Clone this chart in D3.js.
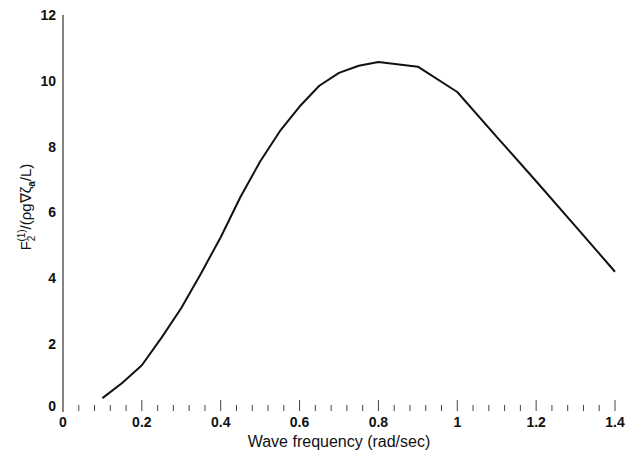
<!DOCTYPE html>
<html>
<head>
<meta charset="utf-8">
<script src="https://cdn.jsdelivr.net/npm/d3@7"></script>
<style>
  body { margin: 0; background: #fff; }
  text { font-family: "Liberation Sans", Arial, sans-serif; fill: #111; }
</style>
</head>
<body>
<svg id="chart" width="637" height="456"></svg>
<script>
const freq = [0.1, 0.15, 0.2, 0.25, 0.3, 0.35, 0.4, 0.45, 0.5, 0.55, 0.6, 0.65, 0.7, 0.75, 0.8, 0.9, 1.0, 1.1, 1.2, 1.3, 1.4];
const force = [0.36, 0.82, 1.36, 2.2, 3.1, 4.15, 5.25, 6.47, 7.55, 8.47, 9.22, 9.85, 10.24, 10.46, 10.57, 10.43, 9.66, 8.3, 6.95, 5.58, 4.2];
const xTicks = [0, 0.2, 0.4, 0.6, 0.8, 1, 1.2, 1.4];
const yTicks = [0, 2, 4, 6, 8, 10, 12];

const svg = d3.select('#chart');
const x = d3.scaleLinear().domain([0, 1.4]).range([63, 615]);
const y = d3.scaleLinear().domain([0, 12]).range([410, 15]);

// y axis line (no tick marks)
svg.append('line')
  .attr('x1', x(0)).attr('x2', x(0))
  .attr('y1', y(12)).attr('y2', 412)
  .attr('stroke', '#333').attr('stroke-width', 1.2);

svg.append('g')
  .selectAll('text')
  .data(yTicks)
  .enter().append('text')
  .attr('x', 56)
  .attr('y', d => y(d))
  .attr('dy', d => d === 0 ? '0.1em' : '0.35em')
  .style('text-anchor', 'end')
  .style('font-size', '14px')
  .style('font-weight', 'bold')
  .text(d => d);

// x ticks: minor every 0.04, major every 0.2, no baseline
const minor = d3.range(1, 36).map(i => i * 0.04).filter(v => Math.abs(v / 0.2 - Math.round(v / 0.2)) > 1e-6);
svg.append('g')
  .selectAll('line')
  .data(minor)
  .enter().append('line')
  .attr('x1', d => x(d)).attr('x2', d => x(d))
  .attr('y1', 405).attr('y2', 411)
  .attr('stroke', '#444').attr('stroke-width', 1);
svg.append('g')
  .selectAll('line')
  .data(xTicks.slice(1))
  .enter().append('line')
  .attr('x1', d => x(d)).attr('x2', d => x(d))
  .attr('y1', 400).attr('y2', 411)
  .attr('stroke', '#444').attr('stroke-width', 1);

svg.append('g')
  .selectAll('text')
  .data(xTicks)
  .enter().append('text')
  .attr('x', d => x(d))
  .attr('y', 427)
  .style('text-anchor', 'middle')
  .style('font-size', '14px')
  .style('font-weight', 'bold')
  .text(d => d);

// curve
svg.append('path')
  .datum(freq.map((f, i) => [f, force[i]]))
  .attr('fill', 'none')
  .attr('stroke', '#111')
  .attr('stroke-width', 2)
  .attr('stroke-linejoin', 'round')
  .attr('d', d3.line()
    .x(d => x(d[0]))
    .y(d => y(d[1])));

// axis titles
svg.append('text')
  .attr('x', 339)
  .attr('y', 447)
  .style('text-anchor', 'middle')
  .style('font-size', '16px')
  .text('Wave frequency (rad/sec)');

const yt = svg.append('text')
  .attr('transform', 'translate(31,207) rotate(-90)')
  .style('text-anchor', 'middle')
  .style('font-size', '15px');
yt.append('tspan').text('F');
yt.append('tspan').attr('dy', 4).style('font-size', '10px').text('2');
yt.append('tspan').attr('dx', -6).attr('dy', -10).style('font-size', '10px').text('(1)');
yt.append('tspan').attr('dy', 6).text('/(ρg∇ζ');
yt.append('tspan').attr('dy', 4).style('font-size', '10px').style('font-weight', 'bold').text('a');
yt.append('tspan').attr('dy', -4).text('/L)');
</script>
</body>
</html>
